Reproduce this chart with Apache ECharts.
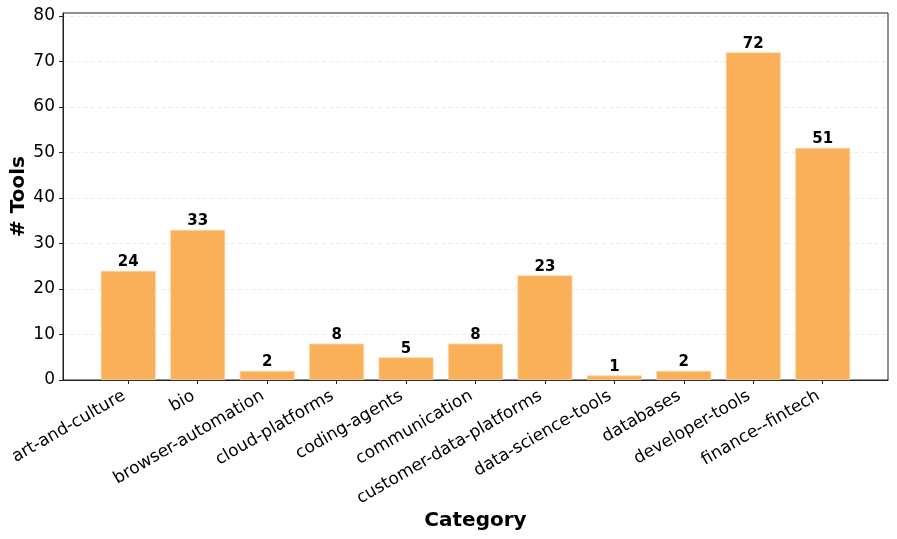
<!DOCTYPE html>
<html><head><meta charset="utf-8">
<script src="https://cdn.jsdelivr.net/npm/echarts@6/dist/echarts.min.js"></script>
<style>html,body{margin:0;padding:0;background:#fff}#c{width:897px;height:539px}</style>
</head><body><div id="c"></div>
<script>
var categories = ["art-and-culture","bio","browser-automation","cloud-platforms","coding-agents","communication","customer-data-platforms","data-science-tools","databases","developer-tools","finance--fintech"];
var values = [24,33,2,8,5,8,23,1,2,72,51];
var yTicks = [0,10,20,30,40,50,60,70,80];
var yMax = 80.64;

var idx = categories.map(function(_, i){ return i; });
var chart = echarts.init(document.getElementById('c'), null, {renderer:'canvas'});
var font = "'DejaVu Sans', sans-serif";
chart.setOption({
  animation: false,
  backgroundColor: '#fff',
  grid: {left: 63, right: 9, top: 13, bottom: 159, containLabel: false, outerBoundsMode: 'none',
    show: true, borderColor: '#222', borderWidth: 1, backgroundColor: 'transparent'},
  xAxis: {
    type: 'value', min: -0.94, max: categories.length - 1 + 0.94,
    name: 'Category', nameLocation: 'middle', nameGap: 131, nameMoveOverlap: false,
    nameTextStyle: {fontFamily: font, fontSize: 20, fontWeight: 'bold', color: '#000'},
    axisLine: {show: true, onZero: false, lineStyle: {color: '#222', width: 1}},
    axisTick: {show: true, length: 4, customValues: idx, lineStyle: {color: '#222'}},
    splitLine: {show: false},
    axisLabel: {customValues: idx, rotate: 30, margin: 22, align: 'right', verticalAlign: 'bottom',
      fontFamily: font, fontSize: 17, color: '#000',
      formatter: function(v){ return categories[Math.round(v)]; }}
  },
  yAxis: {
    type: 'value', min: 0, max: yMax,
    name: '# Tools', nameLocation: 'middle', nameGap: 34, nameMoveOverlap: false,
    nameTextStyle: {fontFamily: font, fontSize: 20, fontWeight: 'bold', color: '#000'},
    axisLine: {show: true, onZero: false, lineStyle: {color: '#222', width: 1}},
    axisTick: {show: true, length: 4, customValues: yTicks, lineStyle: {color: '#222'}},
    axisLabel: {customValues: yTicks, margin: 8, fontFamily: font, fontSize: 17, color: '#000'},
    splitLine: {show: true, lineStyle: {color: '#e8e8e8', type: [4, 3], width: 0.8}}
  },
  series: [{
    type: 'bar',
    data: values.map(function(v, i){ return [i, v]; }),
    barWidth: 55,
    itemStyle: {color: '#FAB058', borderColor: '#FCD7A8', borderWidth: 0.8},
    label: {show: true, position: 'top', distance: 1, fontFamily: font, fontSize: 15, fontWeight: 'bold', color: '#000'}
  }]
});
</script></body></html>
